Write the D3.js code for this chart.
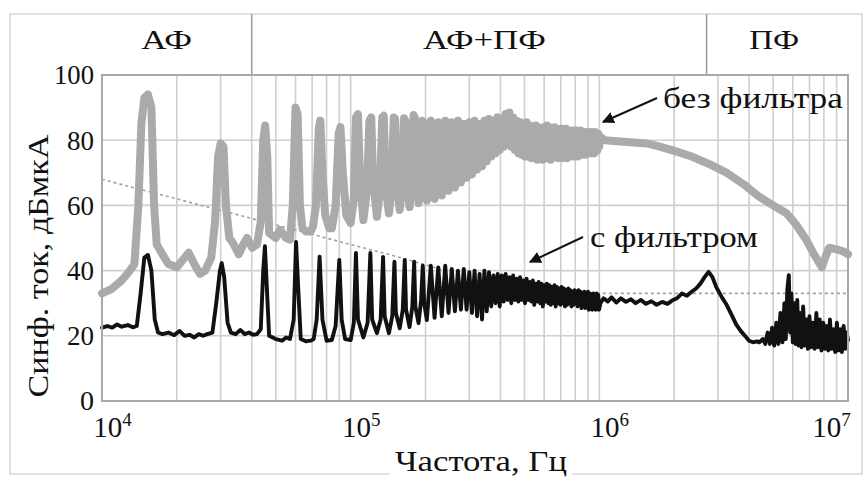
<!DOCTYPE html>
<html><head><meta charset="utf-8">
<script src="https://cdn.jsdelivr.net/npm/d3@7"></script>
<style>
html,body{margin:0;padding:0;background:#fff;}
svg text{font-family:"Liberation Serif","DejaVu Serif",serif;fill:#111;}
</style></head>
<body><svg id="chart" width="863" height="480"></svg>
<script>
// ---- data (frequency in kHz, level in dBµA) ----
const noFilter = [
[10,33],[11,34.5],[12,37],[12.8,39.5],[13.5,42],[14,60],[14.4,85],[14.8,93],[15.3,94],[15.8,90],[16.2,60],[16.6,48],
[17.5,45],[18.5,42],[20,41],[21,43],[22.3,45.5],[23.5,42],[24.8,39],[26,40],[27.5,44],[28.5,55],[29.3,75],[30,79],
[30.8,78],[31.5,60],[32.5,50],[33.6,48.5],[35.5,45],[37,48],[38.3,50],[40.2,47],[42,48],[43.5,55],[44.5,80],[45.3,84.5],
[46.2,75],[47,51.5],[50,50],[52,52.5],[55,50],[57,49.5],[58.5,60],[60,90],[61.2,88],[62.5,60],[64,53],[66,52],[69,52],
[70.5,53.4],[72.5,60],[74.5,84],[75.5,86],[77,70],[79,57],[82,53],[84,53],[87,60],[89.5,82],[91,84],[93,70],[96,57],
[100,54.6],[103,62],[105,87],[107,88],[109,68],[112.5,55.5],[116,64],[119,86],[121,87],[123,68],[127.5,56.5],[131,64],
[134,87],[136,87.5],[138,66],[142.5,57.6],[146,65],[149,87],[151,86.5],[153.5,66],[157.5,58.6],[161,66],[164,86.7],
[166,86],[168.5,67],[172.5,59.5],[176,67],[179,87.7],[181,87],[183.5,68],[187.5,60.7],[191,68],[194,86],[196,85.5],
[198.5,68],[202.5,61.5],
[210,86],[217.5,62],[225,85.5],[232.5,63],[240,86],[247.5,64.5],[255,85.5],[262.5,65.5],[270,86],[277.5,67],
[285,85],[292.5,68.5],[300,85.5],[307.5,69.5],[315,86],[322.5,71],[330,85],[337.5,72],[345,86],[352.5,73.5],
[360,86.5],[367.5,75],[375,86],[382.5,76],[390,87],[397.5,77],[405,86.5],[412.5,78],[420,88],[427.5,79],
[435,88.5],[442.5,78],[450,87],[457.5,77],[465,86],[472.5,76],[480,85.5],[487.5,75.5],[495,85],[502.5,75],
[510,85.5],[517.5,75],[525,84.5],[532.5,74.5],[540,84],[547.5,75],[555,84.5],[562.5,74],[570,84],[577.5,74.5],
[585,83.5],[592.5,74],[600,84],[607.5,75],[615,84.5],[622.5,74.5],[630,84],[637.5,74],[645,83.5],[652.5,75],
[660,84],[667.5,75.5],[675,83.5],[682.5,74.5],[690,83],[697.5,75],[705,83.5],[712.5,74.5],[720,83],[727.5,75],
[735,83.5],[742.5,74.5],[750,83],[757.5,75],[765,82.5],[772.5,75.5],[780,83],[787.5,75],[795,82.5],[802.5,75.5],
[810,83],[817.5,75],[825,82.5],[832.5,76],[840,83],[847.5,75.5],[855,82],[862.5,76],[870,82.5],[877.5,75.5],
[885,82],[892.5,76],[900,82.5],[907.5,76.5],[915,82],[922.5,76],[930,82.5],[937.5,76.5],[945,82],[952.5,76],
[960,82.5],[967.5,76.5],[975,82],[982.5,77],[990,82],[997.5,78],
[1010,81],[1050,80],[1250,79.5],[1550,79],[1750,78],[2050,76.5],[2350,75],[2800,72.5],[3250,70],
[3800,66.5],[4400,62.6],[5000,60],[5650,57.6],[6200,54],[6800,49.4],[7300,45],[7850,41],[8100,44],[8400,47],
[9000,46.5],[9500,46],[10000,45]
];
const withFilter = [
[10,22.5],[10.5,23],[11,22.5],[11.5,23.5],[12,22.8],[12.7,23.3],[13.3,22.6],[13.8,23],[14.3,33],[14.8,44],[15.3,44.8],
[15.8,40],[16.3,25],[16.8,21],[17.5,20.5],[18.5,21],[19.5,20.2],[20.5,21.5],[21.5,20],[22.5,20.3],[23.5,19.5],
[24.5,20.5],[25.5,20],[26.5,20.5],[27.8,21],[28.8,30],[29.8,40],[30.3,42.3],[31,38],[32,24],[33,21],[34.5,20.5],
[36,21.8],[37.5,20.5],[39,21],[40.5,20.3],[42,20.5],[43.5,22],[44.5,40],[45.2,47.5],[46,35],[47,20],[50,19],[53,18.5],
[55,19.5],[57,19],[59,25],[60.3,48.8],[61.5,35],[63,19],[66,18.3],[69,18.5],[71,19],[73,25],[75,44.3],[77,25],[80,18.5],
[84,18.7],[87,23],[90,43.3],[92,25],[95,19],[100,18.7],[103,24],[105,45.4],[107,25],[112.5,19.5],[117,24],[120,45.4],
[122,25],[127.5,20.8],[132,25],[135,44.2],[137,26],[142.5,20.8],[147,26],[150,42.7],[152,27],[157.5,22.3],[162,28],
[165,43.3],[167,28],[172.5,22.7],[177,29],[180,42.7],[182,29],[187.5,23.9],[192,31],[195,41.5],[197.5,30],[202.5,24.8],
[210,41.5],[217.5,25.5],[225,41],[232.5,26],[240,41.5],[247.5,27],[255,40.5],[262.5,27.5],[270,40],[277.5,28],
[285,40.5],[292.5,28],[300,39.5],[307.5,27],[315,40],[322.5,26],[330,39],[337.5,25],[345,40],[352.5,27.5],
[360,39.5],[367.5,29],[375,38.5],[382.5,30],[390,39],[397.5,29],[405,38.5],[412.5,30.5],[420,39],[427.5,31],
[435,38],[442.5,30],[450,38.5],[457.5,31],[465,37.5],[472.5,30.5],[480,38],[487.5,31],[495,37],[502.5,30],
[510,37.5],[517.5,31],[525,36.5],[532.5,30.5],[540,37],[547.5,29.5],[555,36],[562.5,30.5],[570,36.5],[577.5,30],
[585,36],[592.5,29],[600,35.5],[607.5,30.5],[615,36],[622.5,30],[630,35.5],[637.5,29.5],[645,35],[652.5,30],
[660,35.5],[667.5,29],[675,35],[682.5,30],[690,34.5],[697.5,29.5],[705,35],[712.5,30],[720,34.5],[727.5,29],
[735,34],[742.5,29.5],[750,34.5],[757.5,30],[765,34],[772.5,29],[780,33.5],[787.5,29.5],[795,34],[802.5,30],
[810,33.5],[817.5,29],[825,34],[832.5,29.5],[840,33.5],[847.5,28.5],[855,33],[862.5,29],[870,33.5],[877.5,28.5],
[885,33],[892.5,29],[900,33.5],[907.5,28],[915,33],[922.5,28.5],[930,32.5],[937.5,28],[945,33],[952.5,28.5],
[960,32.5],[967.5,28],[975,33],[982.5,28.5],[990,32.5],[997.5,28],
[1010,30],[1040,31.5],[1080,30.5],[1120,31.8],[1170,30.2],[1220,31.5],[1280,30.4],[1340,31.2],[1400,30],[1470,31],
[1540,29.8],[1620,30.6],[1700,29.5],[1790,30.4],[1880,29.8],[1960,30.8],[2050,31.5],[2150,33],[2250,32.3],[2350,33.5],
[2450,34.5],[2550,36],[2650,38],[2750,39.6],[2850,38],[2950,35],[3100,32],[3250,29.5],[3400,26.5],[3550,23.5],
[3700,21.5],[3850,20],[4000,18.5],[4150,18],[4300,18.3],[4400,18],[4550,19],[4650,17.5],[4750,21],[4850,17.5],
[4950,22.5],[5050,17],[5150,24],[5250,17.5],[5350,27],[5450,18],[5550,30],[5620,19],[5700,34],[5780,38.6],[5850,21],
[5920,33],[6000,18],[6080,30],[6160,17.5],[6250,31],[6330,17],[6420,27],[6500,16.5],[6600,29],[6700,17],[6800,25],
[6900,16],[7000,26],[7100,16.5],[7220,24],[7340,16],[7460,27],[7580,16.5],[7700,25],[7820,15.5],[7950,24],[8080,16],
[8200,23],[8330,15.5],[8460,25],[8600,16],[8740,22],[8880,15],[9020,24],[9160,15.5],[9300,22],[9450,15],[9600,23],
[9750,16],[9880,21],[10000,18.7]
];
const limitLine = [[10,68],[150,44.5],[500,33],[10000,33]];
const yTicks = [0,20,40,60,80,100];
const xTickExps = [4,5,6,7];
const bandEdges = [10, 40, 2700, 10000];           // kHz
const bandLabels = ["АФ","АФ+ПФ","ПФ"];
const bandLabelFreqs = [18.2, 345, 5050];          // kHz
const seriesLabels = ["без фильтра","с фильтром"];
const yTitle = "Синф. ток, дБмкА";
const xTitle = "Частота, Гц";

// ---- layout ----
const svg = d3.select("#chart");
const x = d3.scaleLog().domain([1e4,1e7]).range([102,848]);
const y = d3.scaleLinear().domain([0,100]).range([401,75]);
const hz = k => k*1e3;

// outer frame
svg.append("rect").attr("x",10).attr("y",14).attr("width",852).attr("height",460)
  .attr("fill","none").attr("stroke","#d9d9d9").attr("stroke-width",1.5);

// grid
const g = svg.append("g");
g.selectAll("line.v").data(x.ticks()).join("line").attr("class","v")
  .attr("x1",d=>x(d)).attr("x2",d=>x(d)).attr("y1",y(100)).attr("y2",y(0))
  .attr("stroke","#cfcfcf").attr("stroke-width",1.6);
g.selectAll("line.h").data(yTicks).join("line").attr("class","h")
  .attr("x1",x(1e4)).attr("x2",x(1e7)).attr("y1",d=>y(d)).attr("y2",d=>y(d))
  .attr("stroke","#cfcfcf").attr("stroke-width",1.6);

// band dividers
svg.selectAll("line.band").data(bandEdges.slice(1,-1)).join("line").attr("class","band")
  .attr("x1",d=>x(hz(d))).attr("x2",d=>x(hz(d))).attr("y1",14).attr("y2",y(100))
  .attr("stroke","#9a9a9a").attr("stroke-width",1.5);
const bandW = [51,123,50];
svg.selectAll("text.band").data(bandLabels).join("text").attr("class","band")
  .attr("x",(d,i)=>x(hz(bandLabelFreqs[i]))).attr("y",49).attr("text-anchor","middle")
  .attr("font-size",28).attr("textLength",(d,i)=>bandW[i]).attr("lengthAdjust","spacingAndGlyphs")
  .text(d=>d);

// limit line (dotted)
const line = d3.line().x(d=>x(hz(d[0]))).y(d=>y(d[1]));
svg.append("path").datum(limitLine).attr("d",line).attr("fill","none")
  .attr("stroke","#a0a0a0").attr("stroke-width",1.6).attr("stroke-dasharray","3,3");

// series
svg.append("path").datum(noFilter).attr("d",line).attr("fill","none")
  .attr("stroke","#aaaaaa").attr("stroke-width",8).attr("stroke-linejoin","round").attr("stroke-linecap","round");
svg.append("path").datum(withFilter).attr("d",line).attr("fill","none")
  .attr("stroke","#111").attr("stroke-width",3.9).attr("stroke-linejoin","round").attr("stroke-linecap","round");

// plot frame
svg.append("rect").attr("x",x(1e4)).attr("y",y(100)).attr("width",x(1e7)-x(1e4)).attr("height",y(0)-y(100))
  .attr("fill","none").attr("stroke","#a8a8a8").attr("stroke-width",2);

// y axis
const ya = svg.append("g").attr("transform",`translate(${x(1e4)},0)`)
  .call(d3.axisLeft(y).tickValues(yTicks).tickSize(0).tickPadding(8));
ya.select(".domain").remove();
ya.selectAll("text").attr("font-size",28).attr("font-family","Liberation Serif").attr("fill","#111")
  .attr("textLength",d=>d===100?40:(d===0?14:27)).attr("lengthAdjust","spacingAndGlyphs");

// x axis
const xa = svg.append("g").attr("transform",`translate(0,${y(0)})`)
  .call(d3.axisBottom(x).tickValues(xTickExps.map(e=>Math.pow(10,e))).tickSize(0).tickFormat(""));
xa.select(".domain").remove();
xa.selectAll(".tick").each(function(d,i){
  const t = d3.select(this).append("text").attr("y",36).attr("fill","#111")
    .attr("text-anchor","middle").attr("font-size",29).attr("font-family","Liberation Serif")
    .attr("x", i===xTickExps.length-1 ? -17 : 10);
  t.append("tspan").text("10");
  t.append("tspan").attr("dy",-11).attr("font-size",19).text(xTickExps[i]);
});

// axis titles
svg.append("text").attr("transform","translate(48,266) rotate(-90)").attr("text-anchor","middle")
  .attr("font-size",30).attr("textLength",263).attr("lengthAdjust","spacingAndGlyphs").text(yTitle);
svg.append("rect").attr("x",390).attr("y",450).attr("width",182).attr("height",30).attr("fill","#fff");
svg.append("text").attr("x",481).attr("y",471).attr("text-anchor","middle")
  .attr("font-size",29).attr("textLength",172).attr("lengthAdjust","spacingAndGlyphs").text(xTitle);

// annotations
const defs = svg.append("defs");
defs.append("marker").attr("id","arr").attr("viewBox","0 0 10 10").attr("refX",9).attr("refY",5)
  .attr("markerWidth",6).attr("markerHeight",6).attr("orient","auto")
  .append("path").attr("d","M0,0L10,5L0,10z").attr("fill","#111");
const ann = [
  {t:seriesLabels[0], tx:663, ty:108, tw:180, x1:657, y1:98, x2:603, y2:122},
  {t:seriesLabels[1], tx:590, ty:247, tw:168, x1:583, y1:237, x2:530, y2:262}
];
ann.forEach(a=>{
  svg.append("line").attr("x1",a.x1).attr("y1",a.y1).attr("x2",a.x2).attr("y2",a.y2)
    .attr("stroke","#111").attr("stroke-width",2).attr("marker-end","url(#arr)");
  svg.append("text").attr("x",a.tx).attr("y",a.ty).attr("font-size",29)
    .attr("textLength",a.tw).attr("lengthAdjust","spacingAndGlyphs").text(a.t);
});
</script></body></html>
